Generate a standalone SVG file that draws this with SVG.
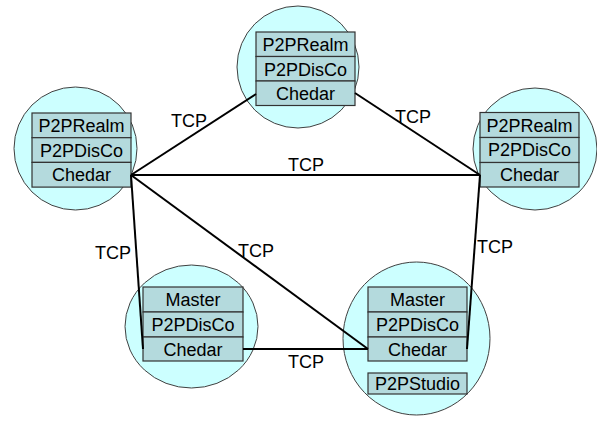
<svg xmlns="http://www.w3.org/2000/svg" width="597" height="423" viewBox="0 0 597 423">
<style>
.c{fill:#ccffff;stroke:#404040;stroke-width:1}
.b{fill:#b4dadd;stroke:#333;stroke-width:1.2}
.t{font-family:"Liberation Sans",Arial,sans-serif;font-size:18px;fill:#000;text-anchor:middle}
.l{stroke:#000;stroke-width:2;fill:none}
</style>
<rect width="597" height="423" fill="#fff"/>
<g id="node-top">
<ellipse class="c" cx="298" cy="67" rx="61" ry="61"/>
<rect class="b" x="256" y="32" width="99" height="24.5"/>
<rect class="b" x="256" y="56.5" width="99" height="24.5"/>
<rect class="b" x="256" y="81" width="99" height="24.5"/>
<text class="t" x="305.5" y="51">P2PRealm</text>
<text class="t" x="305.5" y="75.5">P2PDisCo</text>
<text class="t" x="305.5" y="100">Chedar</text>
</g>
<g id="node-left">
<ellipse class="c" cx="75.5" cy="148.5" rx="61.5" ry="61.5"/>
<rect class="b" x="32" y="113" width="99" height="24.7"/>
<rect class="b" x="32" y="137.7" width="99" height="24.7"/>
<rect class="b" x="32" y="162.4" width="99" height="24.7"/>
<text class="t" x="81.5" y="132">P2PRealm</text>
<text class="t" x="81.5" y="156.5">P2PDisCo</text>
<text class="t" x="81.5" y="181">Chedar</text>
</g>
<g id="node-right">
<ellipse class="c" cx="535" cy="149" rx="62" ry="61"/>
<rect class="b" x="480" y="112.5" width="99" height="25"/>
<rect class="b" x="480" y="137.5" width="99" height="25"/>
<rect class="b" x="480" y="162.5" width="99" height="24.5"/>
<text class="t" x="529.5" y="131.5">P2PRealm</text>
<text class="t" x="529.5" y="156">P2PDisCo</text>
<text class="t" x="529.5" y="181">Chedar</text>
</g>
<g id="node-bottom-left">
<ellipse class="c" cx="191.5" cy="326.5" rx="66.5" ry="61.5"/>
<rect class="b" x="143" y="287" width="100" height="25"/>
<rect class="b" x="143" y="312" width="100" height="25"/>
<rect class="b" x="143" y="337" width="100" height="24"/>
<text class="t" x="193" y="306">Master</text>
<text class="t" x="193" y="331">P2PDisCo</text>
<text class="t" x="193" y="355.5">Chedar</text>
</g>
<g id="node-bottom-right">
<ellipse class="c" cx="416.5" cy="338.5" rx="73.5" ry="76.5"/>
<rect class="b" x="368" y="287" width="99" height="25"/>
<rect class="b" x="368" y="312" width="99" height="25"/>
<rect class="b" x="368" y="337" width="99" height="24"/>
<rect class="b" x="368" y="373" width="99" height="21"/>
<text class="t" x="417.5" y="306">Master</text>
<text class="t" x="417.5" y="331">P2PDisCo</text>
<text class="t" x="417.5" y="355.5">Chedar</text>
<text class="t" x="417.5" y="390">P2PStudio</text>
</g>
<g id="connectors">
<line class="l" x1="131" y1="175" x2="256" y2="94"/>
<line class="l" x1="355" y1="93" x2="480" y2="175"/>
<line class="l" x1="131" y1="175" x2="480" y2="175"/>
<line class="l" x1="131" y1="175" x2="143" y2="349"/>
<line class="l" x1="131" y1="175" x2="368" y2="349"/>
<line class="l" x1="243" y1="349" x2="368" y2="349"/>
<line class="l" x1="480" y1="175" x2="467" y2="349"/>
<text class="t" x="189" y="127">TCP</text>
<text class="t" x="413" y="123">TCP</text>
<text class="t" x="306" y="171">TCP</text>
<text class="t" x="113" y="259">TCP</text>
<text class="t" x="256" y="257">TCP</text>
<text class="t" x="306" y="368">TCP</text>
<text class="t" x="495" y="253">TCP</text>
</g>
</svg>
